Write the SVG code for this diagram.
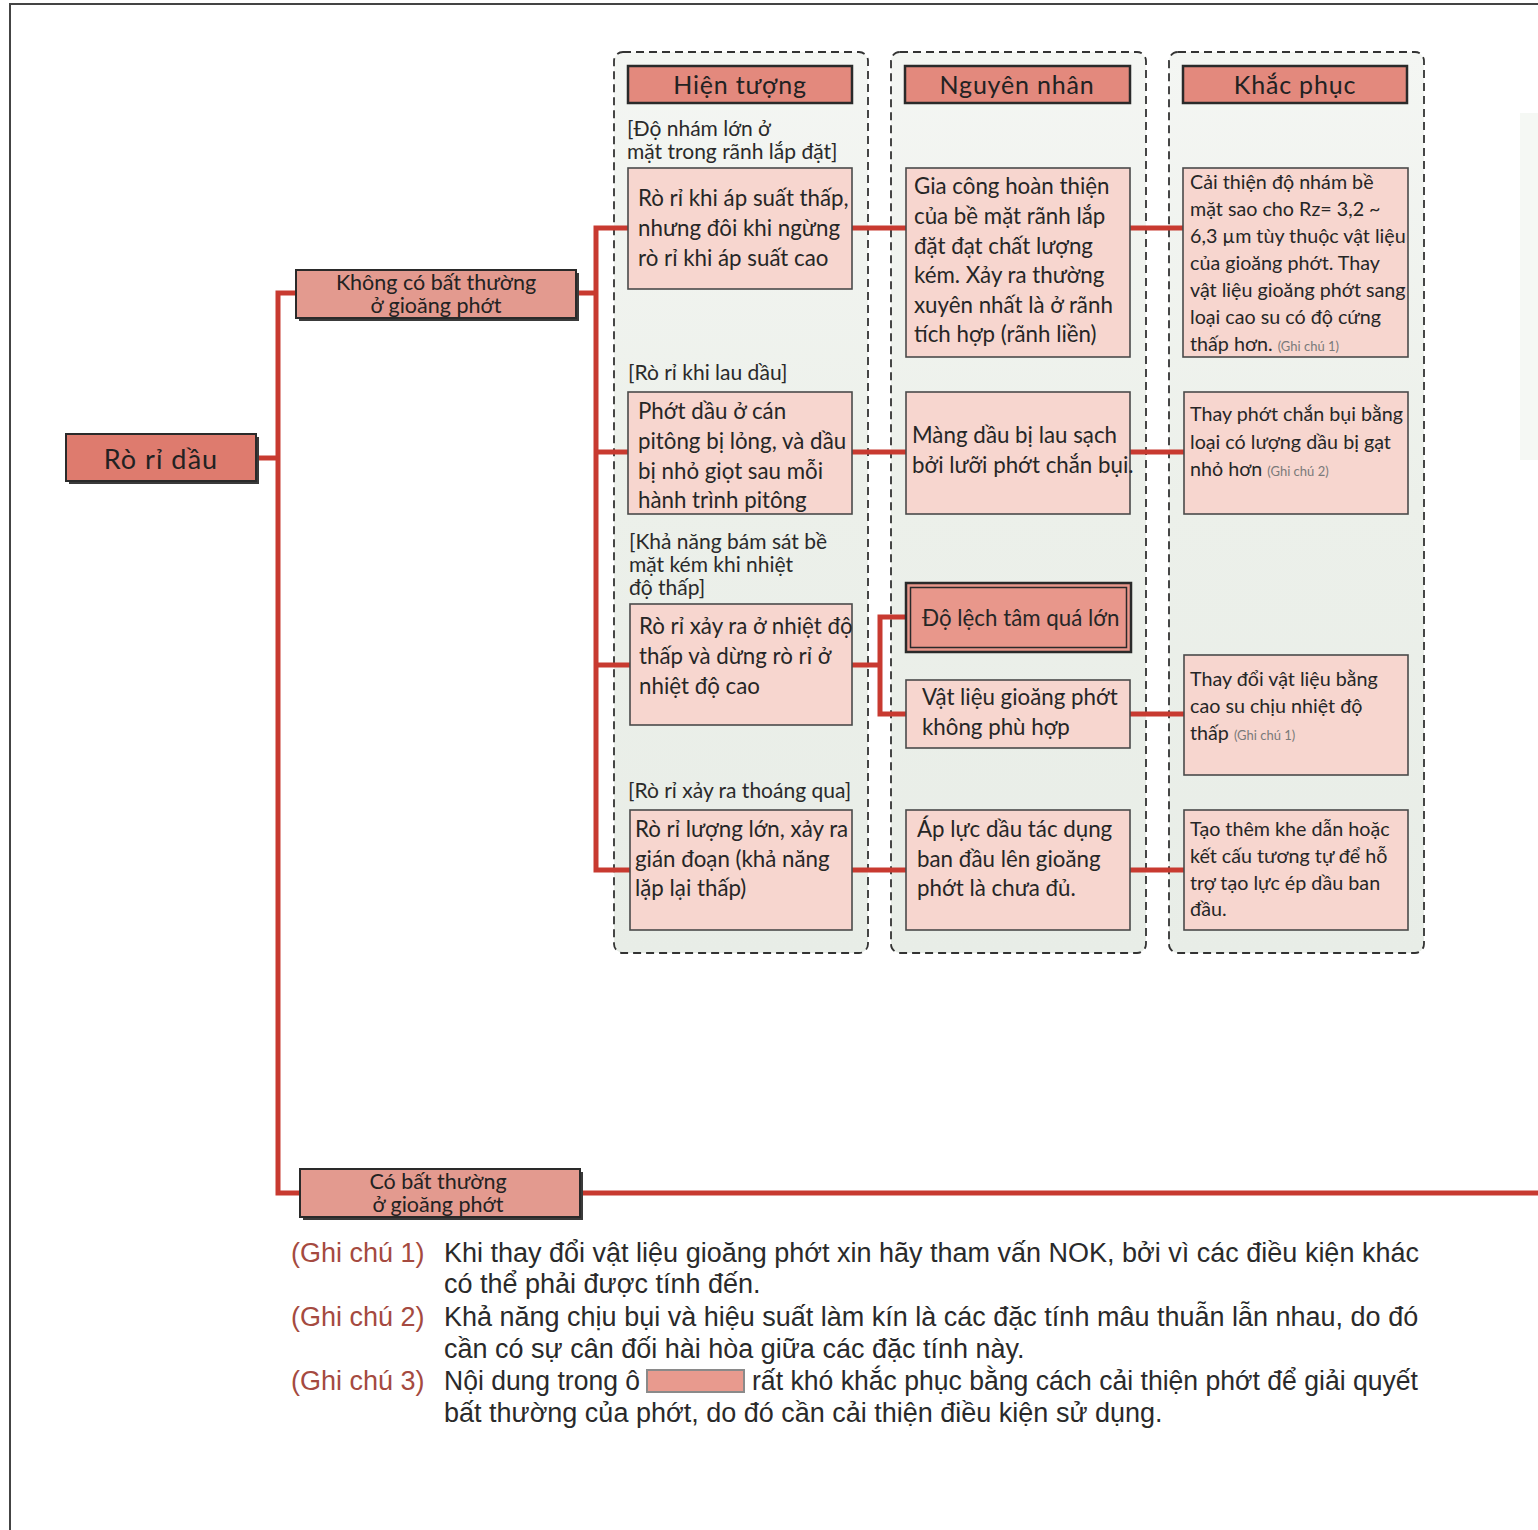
<svg xmlns="http://www.w3.org/2000/svg" width="1538" height="1530" viewBox="0 0 1538 1530">
<style>
.col{fill:url(#colg);stroke:#333;stroke-width:1.8;stroke-dasharray:8 5}
.hdr{fill:#e3897d;stroke:#2a2a2a;stroke-width:2.5}
.hdrt{font-family:Lato,"Open Sans",sans-serif;font-size:25px;fill:#222;text-anchor:middle;letter-spacing:0.8px}
.box{fill:#f7d6cf;stroke:#4a4a4a;stroke-width:1.6}
.t{font-family:Lato,"Noto Sans",sans-serif;font-size:22.3px;fill:#262626}
.t3{font-family:Lato,"Noto Sans",sans-serif;font-size:19.7px;fill:#262626}
.lbl{font-family:Lato,"Noto Sans",sans-serif;font-size:21px;fill:#2a2a2a}
.gc{font-size:13px;fill:#7a7a7a}
.node{fill:#e39a8f;stroke:#2a2a2a;stroke-width:2}
.shadow{fill:#3a3a3a}
.nt{font-family:Lato,"Noto Sans",sans-serif;font-size:21.5px;fill:#222;text-anchor:middle}
.conn{fill:none;stroke:#c83a30;stroke-width:5;stroke-linejoin:miter}
.note{font-family:"Liberation Sans",Arial,sans-serif;font-size:27px;fill:#2a2a2a}
.noteh{font-family:"Liberation Sans",Arial,sans-serif;font-size:27px;fill:#a54a40}
</style>
<defs>
<linearGradient id="colg" x1="0" y1="0" x2="0" y2="1">
<stop offset="0" stop-color="#f4f6f3"/>
<stop offset="0.5" stop-color="#ecf0ea"/>
<stop offset="1" stop-color="#e8ede7"/>
</linearGradient>
</defs>
<rect x="0" y="0" width="1538" height="1530" fill="#ffffff"/>
<g id="page-border" fill="none" stroke="#444" stroke-width="2">
<path d="M10,1530 V4 H1538"/>
</g>
<rect x="1520" y="113" width="18" height="347" fill="#f5f8f4"/>

<g id="columns">
<rect class="col" x="614" y="52" width="254" height="901" rx="9"/>
<rect class="col" x="891" y="52" width="255" height="901" rx="9"/>
<rect class="col" x="1169" y="52" width="255" height="901" rx="9"/>
</g>

<g id="connectors">
<path class="conn" d="M256,458 H278"/>
<path class="conn" d="M296,293 H278 V1193 H300"/>
<path class="conn" d="M576,293 H596"/>
<path class="conn" d="M628,228 H596 V870 H630"/>
<path class="conn" d="M596,452 H628"/>
<path class="conn" d="M596,665 H630"/>
<path class="conn" d="M852,228 H906"/>
<path class="conn" d="M1130,228 H1183"/>
<path class="conn" d="M852,452 H906"/>
<path class="conn" d="M1130,452 H1184"/>
<path class="conn" d="M852,665 H880"/>
<path class="conn" d="M906,617 H880 V714 H906"/>
<path class="conn" d="M1130,714 H1184"/>
<path class="conn" d="M852,870 H906"/>
<path class="conn" d="M1130,870 H1184"/>
<path class="conn" d="M580,1193 H1538"/>
</g>

<g id="node-ro-ri-dau">
<rect class="shadow" x="69" y="437" width="190" height="47"/>
<rect x="66" y="434" width="190" height="47" fill="#de7b6e" stroke="#2a2a2a" stroke-width="2"/>
<text class="nt" x="161" y="469" style="font-size:27px;letter-spacing:1px">Rò rỉ dầu</text>
</g>
<g id="node-khong-co">
<rect class="shadow" x="299" y="273" width="280" height="48"/>
<rect class="node" x="296" y="270" width="280" height="48"/>
<text class="nt" x="436" y="290">Không có bất thường</text>
<text class="nt" x="436" y="313">ở gioăng phớt</text>
</g>
<g id="node-co">
<rect class="shadow" x="303" y="1172" width="280" height="48"/>
<rect class="node" x="300" y="1169" width="280" height="48"/>
<text class="nt" x="438" y="1189">Có bất thường</text>
<text class="nt" x="438" y="1212">ở gioăng phớt</text>
</g>

<g id="hdr-hien-tuong">
<rect class="hdr" x="628" y="66" width="224" height="37"/>
<text class="hdrt" x="740" y="94">Hiện tượng</text>
</g>
<g id="hdr-nguyen-nhan">
<rect class="hdr" x="905" y="66" width="225" height="37"/>
<text class="hdrt" x="1017" y="94">Nguyên nhân</text>
</g>
<g id="hdr-khac-phuc">
<rect class="hdr" x="1183" y="66" width="224" height="37"/>
<text class="hdrt" x="1295" y="94">Khắc phục</text>
</g>

<g id="labels">
<text class="lbl" x="627" y="136">[Độ nhám lớn ở</text>
<text class="lbl" x="627" y="159">mặt trong rãnh lắp đặt]</text>
<text class="lbl" x="628" y="380">[Rò rỉ khi lau dầu]</text>
<text class="lbl" x="629" y="549">[Khả năng bám sát bề</text>
<text class="lbl" x="629" y="572">mặt kém khi nhiệt</text>
<text class="lbl" x="629" y="595">độ thấp]</text>
<text class="lbl" x="628" y="798">[Rò rỉ xảy ra thoáng qua]</text>
</g>

<g id="s1">
<rect class="box" x="628" y="168" width="224" height="121"/>
<text class="t" x="638" y="206">Rò rỉ khi áp suất thấp,</text>
<text class="t" x="638" y="236">nhưng đôi khi ngừng</text>
<text class="t" x="638" y="266">rò rỉ khi áp suất cao</text>
</g>
<g id="s2">
<rect class="box" x="628" y="392" width="224" height="122"/>
<text class="t" x="638" y="419">Phớt dầu ở cán</text>
<text class="t" x="638" y="449">pitông bị lỏng, và dầu</text>
<text class="t" x="638" y="479">bị nhỏ giọt sau mỗi</text>
<text class="t" x="638" y="508">hành trình pitông</text>
</g>
<g id="s3">
<rect class="box" x="630" y="604" width="222" height="121"/>
<text class="t" x="639" y="634">Rò rỉ xảy ra ở nhiệt độ</text>
<text class="t" x="639" y="664">thấp và dừng rò rỉ ở</text>
<text class="t" x="639" y="694">nhiệt độ cao</text>
</g>
<g id="s4">
<rect class="box" x="630" y="810" width="222" height="120"/>
<text class="t" x="635" y="837">Rò rỉ lượng lớn, xảy ra</text>
<text class="t" x="635" y="867">gián đoạn (khả năng</text>
<text class="t" x="635" y="896">lặp lại thấp)</text>
</g>

<g id="c1">
<rect class="box" x="906" y="168" width="224" height="189"/>
<text class="t" x="914" y="194">Gia công hoàn thiện</text>
<text class="t" x="914" y="224">của bề mặt rãnh lắp</text>
<text class="t" x="914" y="254">đặt đạt chất lượng</text>
<text class="t" x="914" y="283">kém. Xảy ra thường</text>
<text class="t" x="914" y="313">xuyên nhất là ở rãnh</text>
<text class="t" x="914" y="342">tích hợp (rãnh liền)</text>
</g>
<g id="c2">
<rect class="box" x="906" y="392" width="224" height="122"/>
<text class="t" x="912" y="443">Màng dầu bị lau sạch</text>
<text class="t" x="912" y="473">bởi lưỡi phớt chắn bụi.</text>
</g>
<g id="c3">
<rect x="906" y="583" width="225" height="69" fill="#e8978b" stroke="#2a2a2a" stroke-width="2.5"/>
<rect x="910.5" y="587.5" width="216" height="60" fill="none" stroke="#2a2a2a" stroke-width="1.5"/>
<text class="t" x="922" y="626">Độ lệch tâm quá lớn</text>
</g>
<g id="c4">
<rect class="box" x="906" y="680" width="224" height="68"/>
<text class="t" x="922" y="705">Vật liệu gioăng phớt</text>
<text class="t" x="922" y="735">không phù hợp</text>
</g>
<g id="c5">
<rect class="box" x="906" y="810" width="224" height="120"/>
<text class="t" x="917" y="837">Áp lực dầu tác dụng</text>
<text class="t" x="917" y="867">ban đầu lên gioăng</text>
<text class="t" x="917" y="896">phớt là chưa đủ.</text>
</g>

<g id="r1">
<rect class="box" x="1183" y="168" width="225" height="189"/>
<text class="t3" x="1190" y="189">Cải thiện độ nhám bề</text>
<text class="t3" x="1190" y="216">mặt  sao cho Rz= 3,2 ~</text>
<text class="t3" x="1190" y="243">6,3 µm tùy thuộc vật liệu</text>
<text class="t3" x="1190" y="270">của gioăng phớt. Thay</text>
<text class="t3" x="1190" y="297">vật liệu gioăng phớt sang</text>
<text class="t3" x="1190" y="324">loại cao su có độ cứng</text>
<text class="t3" x="1190" y="351">thấp hơn. <tspan class="gc">(Ghi chú 1)</tspan></text>
</g>
<g id="r2">
<rect class="box" x="1184" y="392" width="224" height="122"/>
<text class="t3" x="1190" y="421">Thay phớt chắn bụi bằng</text>
<text class="t3" x="1190" y="449">loại có lượng dầu bị gạt</text>
<text class="t3" x="1190" y="476">nhỏ hơn <tspan class="gc">(Ghi chú 2)</tspan></text>
</g>
<g id="r3">
<rect class="box" x="1184" y="655" width="224" height="120"/>
<text class="t3" x="1190" y="686">Thay đổi vật liệu bằng</text>
<text class="t3" x="1190" y="713">cao su chịu nhiệt độ</text>
<text class="t3" x="1190" y="740">thấp <tspan class="gc">(Ghi chú 1)</tspan></text>
</g>
<g id="r4">
<rect class="box" x="1184" y="810" width="224" height="120"/>
<text class="t3" x="1190" y="836">Tạo thêm khe dẫn hoặc</text>
<text class="t3" x="1190" y="863">kết cấu tương tự để hỗ</text>
<text class="t3" x="1190" y="890">trợ tạo lực ép dầu ban</text>
<text class="t3" x="1190" y="916">đầu.</text>
</g>

<g id="notes">
<text class="noteh" x="291" y="1262">(Ghi chú 1)</text>
<text class="note" x="444" y="1262">Khi thay đổi vật liệu gioăng phớt xin hãy tham vấn NOK, bởi vì các điều kiện khác</text>
<text class="note" x="444" y="1293">có thể phải được tính đến.</text>
<text class="noteh" x="291" y="1326">(Ghi chú 2)</text>
<text class="note" x="444" y="1326">Khả năng chịu bụi và hiệu suất làm kín là các đặc tính mâu thuẫn lẫn nhau, do đó</text>
<text class="note" x="444" y="1358">cần có sự cân đối hài hòa giữa các đặc tính này.</text>
<text class="noteh" x="291" y="1390">(Ghi chú 3)</text>
<text class="note" x="444" y="1390" textLength="196" lengthAdjust="spacingAndGlyphs">Nội dung trong ô</text>
<rect x="647" y="1370" width="97" height="22" fill="#e89a8e" stroke="#8a8a8a" stroke-width="2"/>
<text class="note" x="752" y="1390" textLength="666" lengthAdjust="spacingAndGlyphs">rất khó khắc phục bằng cách cải thiện phớt để giải quyết</text>
<text class="note" x="444" y="1422">bất thường của phớt, do đó cần cải thiện điều kiện sử dụng.</text>
</g>
</svg>
